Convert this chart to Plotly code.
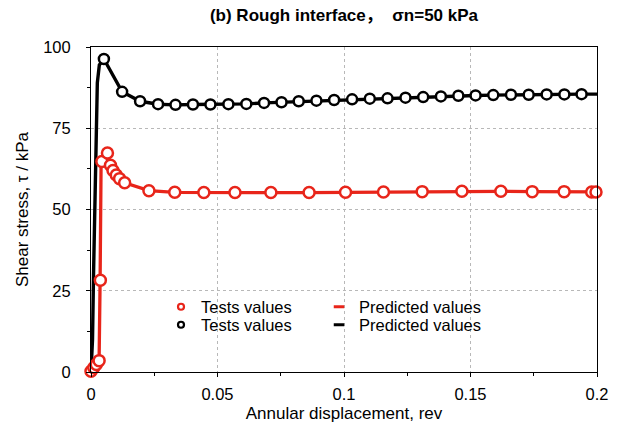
import plotly.graph_objects as go

# ---------------- data ----------------
black_test_x = [0.0051, 0.0123, 0.0194, 0.0265, 0.0334, 0.0403, 0.0472, 0.0543, 0.0614, 0.0684,
                0.0753, 0.0821, 0.0891, 0.0961, 0.1032, 0.1102, 0.1172, 0.1243, 0.1313, 0.1383,
                0.1452, 0.1520, 0.1590, 0.1660, 0.1730, 0.1801, 0.1871, 0.1939]
black_test_y = [96.3, 86.2, 83.3, 82.4, 82.2, 82.3, 82.3, 82.4, 82.5, 82.8,
                83.0, 83.3, 83.5, 83.7, 83.9, 84.1, 84.2, 84.4, 84.6, 84.8,
                85.0, 85.1, 85.2, 85.3, 85.3, 85.4, 85.4, 85.5]

black_pred_x = [0.0, 0.0006, 0.0010, 0.0015, 0.0020, 0.0025, 0.0033] + black_test_x + [0.2]
black_pred_y = [0.0, 10.0, 30.0, 55.0, 78.0, 89.0, 94.5] + black_test_y + [85.5]

red_test_x = [0.0, 0.0011, 0.0021, 0.0032, 0.0037, 0.0043, 0.0065, 0.0077, 0.0087, 0.0100,
              0.0113, 0.0133, 0.0229, 0.0331, 0.0446, 0.0569, 0.0711, 0.0862, 0.1006, 0.1156,
              0.1309, 0.1466, 0.1620, 0.1744, 0.1870, 0.1979, 0.1996]
red_test_y = [0.2, 1.3, 2.3, 3.5, 28.2, 64.8, 67.4, 63.6, 62.0, 60.6,
              59.5, 58.2, 55.8, 55.3, 55.2, 55.2, 55.2, 55.2, 55.3, 55.4,
              55.5, 55.6, 55.6, 55.5, 55.5, 55.4, 55.4]

red_pred_x = [0.0, 0.0032, 0.0036, 0.0038, 0.0040, 0.0043, 0.0065, 0.0077, 0.0087, 0.0100,
              0.0113, 0.0133, 0.0229, 0.0331, 0.0446, 0.0569, 0.0711, 0.0862, 0.1006, 0.1156,
              0.1309, 0.1466, 0.1620, 0.1744, 0.1870, 0.1979, 0.2]
red_pred_y = [0.0, 3.5, 28.2, 64.0, 65.5, 64.8, 67.4, 63.6, 62.0, 60.6,
              59.5, 58.2, 55.8, 55.3, 55.2, 55.2, 55.2, 55.2, 55.3, 55.4,
              55.5, 55.6, 55.6, 55.5, 55.5, 55.4, 55.4]

x_ticks = [0, 0.05, 0.1, 0.15, 0.2]
x_ticktext = ["0", "0.05", "0.1", "0.15", "0.2"]
y_ticks = [0, 25, 50, 75, 100]

RED = "#E8251A"
BLACK = "#000000"
FONT = "Liberation Sans, Arial, Helvetica, Noto Sans CJK SC, sans-serif"

fig = go.Figure()

# black series
fig.add_trace(go.Scatter(x=black_pred_x, y=black_pred_y, mode="lines", cliponaxis=False,
                         line=dict(color=BLACK, width=3.4), showlegend=False, hoverinfo="skip"))
fig.add_trace(go.Scatter(x=black_test_x, y=black_test_y, mode="markers", cliponaxis=False,
                         marker=dict(symbol="circle", size=10, color="white",
                                     line=dict(color=BLACK, width=2.5)),
                         showlegend=False))
# red series
fig.add_trace(go.Scatter(x=red_pred_x, y=red_pred_y, mode="lines", cliponaxis=False,
                         line=dict(color=RED, width=3.3), showlegend=False, hoverinfo="skip"))
fig.add_trace(go.Scatter(x=red_test_x, y=red_test_y, mode="markers", cliponaxis=False,
                         marker=dict(symbol="circle", size=11, color="white",
                                     line=dict(color=RED, width=2.5)),
                         showlegend=False))

# legend entries
fig.add_trace(go.Scatter(x=[None], y=[None], mode="markers", name="Tests values",
                         marker=dict(symbol="circle", size=6, color="white",
                                     line=dict(color=RED, width=2.2)), legend="legend"))
fig.add_trace(go.Scatter(x=[None], y=[None], mode="markers", name="Tests values",
                         marker=dict(symbol="circle", size=6, color="white",
                                     line=dict(color=BLACK, width=2.2)), legend="legend2"))
fig.add_trace(go.Scatter(x=[None], y=[None], mode="markers", name="Predicted values",
                         marker=dict(symbol="line-ew", size=7.5, color=RED,
                                     line=dict(color=RED, width=3)), legend="legend3"))
fig.add_trace(go.Scatter(x=[None], y=[None], mode="markers", name="Predicted values",
                         marker=dict(symbol="line-ew", size=7.5, color=BLACK,
                                     line=dict(color=BLACK, width=3)), legend="legend4"))

L, R, T, B = 91, 22, 47, 62
W, H = 619, 434
pw, ph = W - L - R, H - T - B

def px2x(px):
    return (px - L) / pw

def py2y(py):
    return (H - B - py) / ph

leg_common = dict(bgcolor="rgba(0,0,0,0)", borderwidth=0, font=dict(family=FONT, size=16.5, color="#000"),
                  xanchor="left", yanchor="middle")

fig.update_layout(
    width=W, height=H,
    margin=dict(l=L, r=R, t=T, b=B),
    paper_bgcolor="white", plot_bgcolor="white",
    font=dict(family=FONT, color="#000"),
    title=dict(text="<b>(b) Rough interface，  σn=50 kPa</b>", x=0.5, xref="paper", xanchor="center",
               y=1 - 15 / H, yanchor="middle", font=dict(family=FONT, size=17, color="#000")),
    legend=dict(x=px2x(161), y=py2y(307), **leg_common),
    legend2=dict(x=px2x(161), y=py2y(325), **leg_common),
    legend3=dict(x=px2x(319), y=py2y(307), **leg_common),
    legend4=dict(x=px2x(319), y=py2y(325), **leg_common),
    xaxis=dict(range=[0, 0.2], tickvals=x_ticks, ticktext=x_ticktext,
               showline=True, linecolor="#000", linewidth=1, mirror=True,
               ticks="outside", ticklen=4, tickcolor="#000",
               minor=dict(dtick=0.025, ticks="outside", ticklen=3, tickcolor="#000", showgrid=False),
               showgrid=True, gridcolor="#b8b8b8", griddash="dot", gridwidth=1,
               zeroline=False, tickfont=dict(family=FONT, size=16.5, color="#000"),
               ticklabelstandoff=3,
               title=dict(text="Annular displacement, rev", standoff=5,
                          font=dict(family=FONT, size=17, color="#000"))),
    yaxis=dict(range=[0, 100], tickvals=y_ticks,
               showline=True, linecolor="#000", linewidth=1, mirror=True,
               ticks="outside", ticklen=4, tickcolor="#000",
               minor=dict(dtick=12.5, ticks="outside", ticklen=3, tickcolor="#000", showgrid=False),
               showgrid=True, gridcolor="#b8b8b8", griddash="dot", gridwidth=1,
               zeroline=False, tickfont=dict(family=FONT, size=16.5, color="#000"),
               ticklabelstandoff=12,
               title=dict(text="Shear stress, τ / kPa", standoff=10,
                          font=dict(family=FONT, size=17, color="#000"))),
)

fig.write_html("out.html")
